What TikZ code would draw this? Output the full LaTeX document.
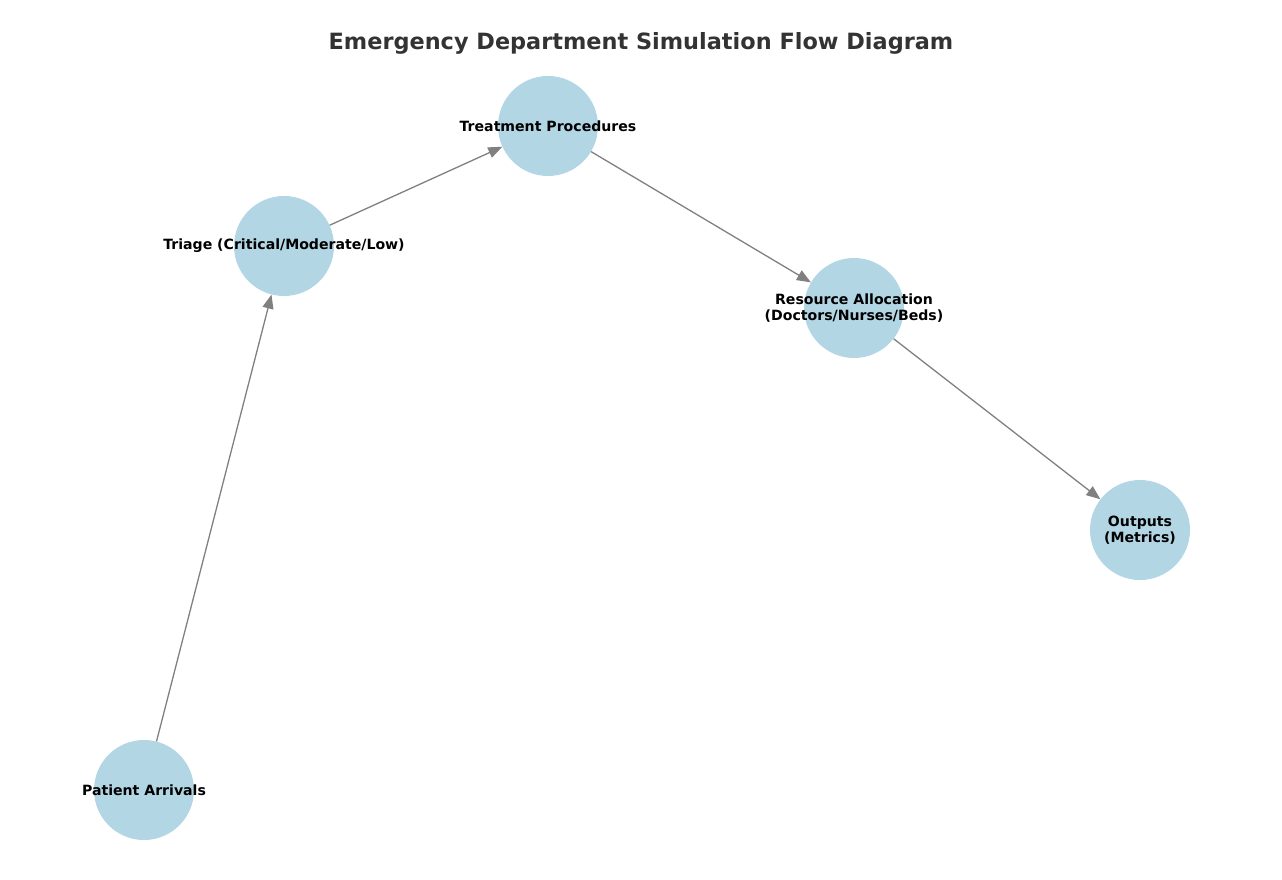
\documentclass[tikz,border=0pt]{standalone}
\usepackage{fontspec}
\setmainfont{DejaVu Sans}
\usetikzlibrary{arrows.meta}
\definecolor{nodeblue}{RGB}{178,214,228}
\definecolor{edgegray}{RGB}{128,128,128}
\definecolor{titlegray}{RGB}{51,51,51}
\begin{document}
\begin{tikzpicture}[x=1pt,y=-1pt,
  stage/.style={circle,fill=nodeblue,minimum size=100pt,inner sep=0pt},
  lbl/.style={font=\fontsize{14.1}{16.3}\selectfont\bfseries,align=center,text=black},
  flow/.style={draw=edgegray,line width=1.3pt,-{Triangle[length=14pt,width=11pt]}}]
\useasboundingbox (0,0) rectangle (1282,880);
\node[stage] (pa) at (144,790) {};
\node[stage] (tr) at (284,246) {};
\node[stage] (tp) at (548,126) {};
\node[stage] (ra) at (854,308) {};
\node[stage] (ou) at (1140,530) {};
\draw[flow] (pa) -- (tr);
\draw[flow] (tr) -- (tp);
\draw[flow] (tp) -- (ra);
\draw[flow] (ra) -- (ou);
\node[lbl] (lpa) at (144,790) {Patient Arrivals};
\node[lbl] (ltr) at (284,246) {Triage (Critical/Moderate/Low)};
\node[lbl] (ltp) at (548,126) {Treatment Procedures};
\node[lbl] (lra) at (854,308) {Resource Allocation\\(Doctors/Nurses/Beds)};
\node[lbl] (lou) at (1140,530) {Outputs\\(Metrics)};
\node[font=\fontsize{22.4}{26}\selectfont\bfseries,text=titlegray] (title) at (641,43) {Emergency Department Simulation Flow Diagram};
\end{tikzpicture}
\end{document}
